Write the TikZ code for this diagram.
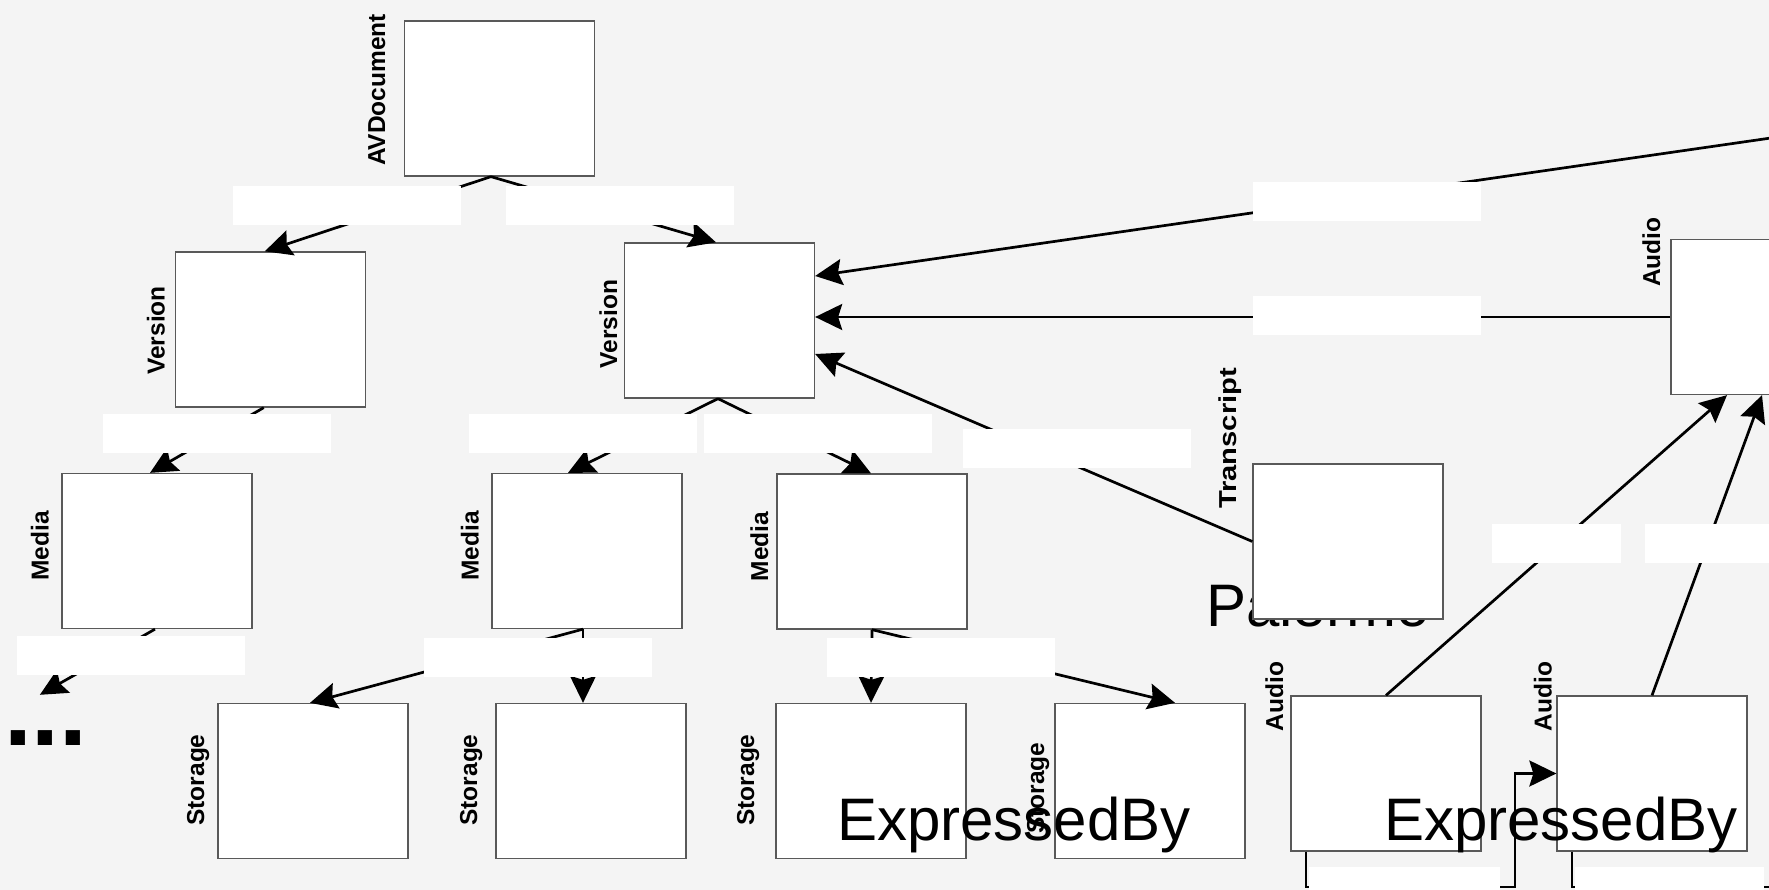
\documentclass[tikz,border=0pt]{standalone}
\usepackage{fontspec}
\usepackage{graphicx}
\setmainfont{Liberation Sans}
\usetikzlibrary{arrows.meta,calc}
\definecolor{bgc}{RGB}{244,244,244}
\begin{document}
\begin{tikzpicture}[x=1pt,y=-1pt,
  box/.style={rectangle, draw=black!65, line width=1.3pt, fill=white, minimum width=190pt, minimum height=155pt, inner sep=0pt},
  lbl/.style={font=\bfseries\fontsize{24.5}{24.5}\selectfont, rotate=90, anchor=base, inner sep=0pt},
  tag/.style={rectangle, fill=white, inner sep=0pt, minimum width=228pt, minimum height=39pt},
  conn/.style={line width=2.7pt, -{Stealth[length=27pt,width=26pt,inset=4pt]}},
  wire/.style={line width=2.7pt},
  big/.style={font=\fontsize{60}{60}\selectfont, anchor=base west, inner sep=0pt},
]
\fill[bgc] (0,0) rectangle (1769,890);
\useasboundingbox (0,0) rectangle (1769,890);
\clip (0,0) rectangle (1769,890);

% text partly hidden behind the Transcript box
\node[big] (palermo) at (1206,626) {Palermo};

% boxes
\node[box] (avdoc) at (499.5,98.5) {};
\node[box] (ver1) at (270.75,329.5) {};
\node[box] (ver2) at (719.5,320.5) {};
\node[box] (med1) at (157,551) {};
\node[box] (med2) at (587,551) {};
\node[box] (med3) at (872,551.5) {};
\node[box] (trans) at (1348,541.5) {};
\node[box] (audtop) at (1766,317) {};
\node[box] (sto1) at (313,781) {};
\node[box] (sto2) at (591,781) {};
\node[box] (sto3) at (871,781) {};
\node[box] (sto4) at (1150,781) {};
\node[box] (aud1) at (1386,773.5) {};
\node[box] (aud2) at (1652,773.5) {};

\node[font=\bfseries\fontsize{100}{100}\selectfont, anchor=base west, inner sep=0pt, text height=50pt] (dots) at (4,745) {...};

\coordinate (offtop) at (1800,133.8);
\coordinate (elb) at (1515,887);
\coordinate (offbot) at (1800,887);

% connectors
\draw[conn] ([xshift=-8.5pt]avdoc.south) -- ([xshift=-6pt]ver1.north);
\draw[conn] ([xshift=-8.5pt]avdoc.south) -- ([xshift=-3.5pt]ver2.north);
\draw[conn] ([xshift=-7pt]ver1.south) -- ([xshift=-7pt]med1.north);
\draw[conn] ([xshift=-1.5pt]ver2.south) -- ([xshift=-19pt]med2.north);
\draw[conn] ([xshift=-1.5pt]ver2.south) -- ([xshift=-1pt]med3.north);
\draw[conn] (trans.west) -- ([yshift=-33.5pt]ver2.east);
\draw[conn] (audtop.west) -- (ver2.east |- audtop.west);
\draw[conn] (offtop) -- ([yshift=44.5pt]ver2.east);
\draw[conn] ([xshift=-2pt]med1.south) -- ([xshift=-6pt]dots.north);
\draw[conn] ([xshift=-4pt]med2.south) -- ([xshift=-3pt]sto1.north);
\draw[conn] ([xshift=-4pt]med2.south) -- ([xshift=-8pt]sto2.north);
\draw[conn] (med3.south) -- (sto3.north);
\draw[conn] (med3.south) -- ([xshift=25pt]sto4.north);
\draw[conn] (aud1.north) -- ([xshift=-39pt]audtop.south);
\draw[conn] (aud2.north) -- ([xshift=-4pt]audtop.south);
\draw[conn] ([xshift=-80pt]aud1.south) |- (elb) |- (aud2.west);
\draw[wire] ([xshift=-80pt]aud2.south) |- (offbot);

% white label plates
\node[tag] (l1) at (347,205.5) {};
\node[tag] (l2) at (620,205.5) {};
\node[tag] (l3) at (217,433.5) {};
\node[tag] (l4) at (582.5,433.5) {};
\node[tag] (l5) at (818,433.5) {};
\node[tag] (l6) at (1077,448.5) {};
\node[tag] (l7) at (1366.5,201.5) {};
\node[tag] (l8) at (1366.5,315.5) {};
\node[tag, minimum width=129pt] (l9) at (1556.5,543.5) {};
\node[tag, minimum width=129pt] (l10) at (1709.5,543.5) {};
\node[tag] (l11) at (130.5,655) {};
\node[tag] (l12) at (537.5,657.5) {};
\node[tag] (l13) at (940.5,657.5) {};
\node[tag, minimum width=191pt] (l14) at (1404.5,886.5) {};
\node[tag, minimum width=189pt] (l15) at (1669.5,886.5) {};

% rotated labels
\node[lbl] (tavdoc) at (385,90) {AVDocument};
\node[lbl] (tver1) at (164.5,330.5) {Version};
\node[lbl] (tver2) at (617,324) {Version};
\node[lbl] (tmed1) at (48.5,546) {Media};
\node[lbl] (tmed2) at (478.5,546) {Media};
\node[lbl] (tmed3) at (768,546.5) {Media};
\node[lbl] (ttrans) at (1236.7,438.5) {\scalebox{1.19}[1]{Transcript}};
\node[lbl] (taudtop) at (1660,252.3) {Audio};
\node[lbl] (tsto1) at (204,780) {Storage};
\node[lbl] (tsto2) at (477,780) {Storage};
\node[lbl] (tsto3) at (754,780) {Storage};
\node[lbl] (tsto4) at (1044,788.3) {Storage};
\node[lbl] (taud1) at (1283,696.7) {Audio};
\node[lbl] (taud2) at (1551.5,696.7) {Audio};

% large texts on top
\node[big] (exp1) at (837,840) {ExpressedBy};
\node[big] (exp2) at (1384,840) {ExpressedBy};
\end{tikzpicture}
\end{document}
